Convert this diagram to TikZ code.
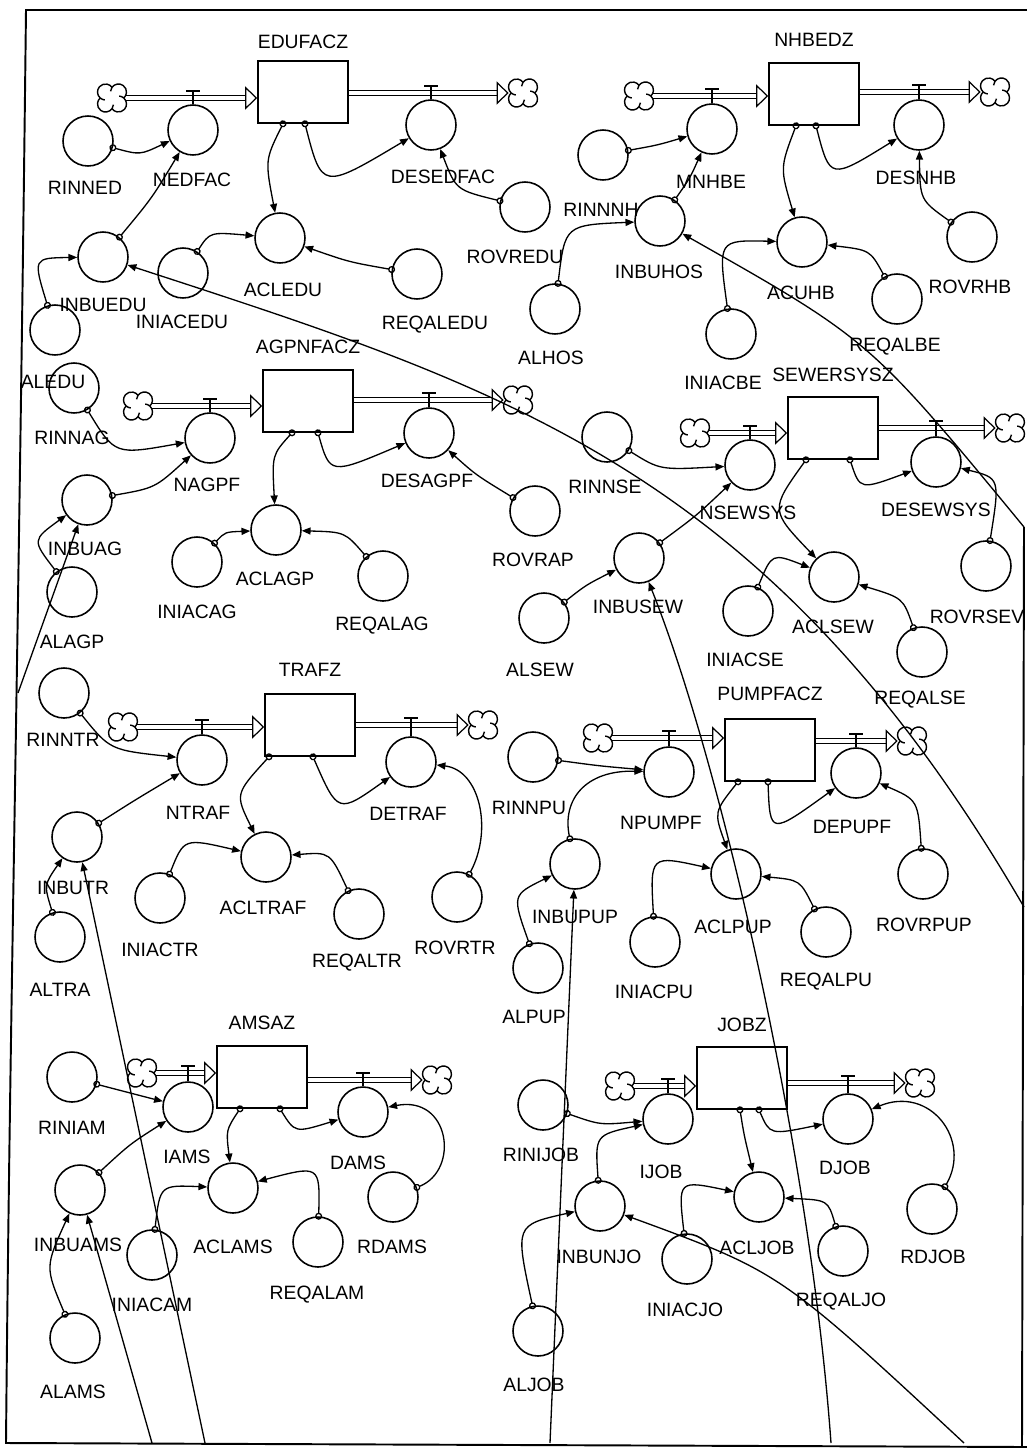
\documentclass[tikz,border=0pt]{standalone}
\usepackage{fontspec}
\setmainfont{Liberation Sans}
\usetikzlibrary{arrows.meta,calc}

\tikzset{
  aux/.style={draw, circle, minimum size=1cm, inner sep=0pt, line width=0.9pt},
  stock/.style={draw, rectangle, minimum width=1.8cm, minimum height=1.24cm, inner sep=0pt, line width=0.9pt},
  sink/.style={circle, minimum size=0.56cm, inner sep=0pt},
  puff/.style={line width=0.8pt, line join=round},
  lbl/.style={inner sep=0pt, font=\fontsize{11}{13}\selectfont},
  pipe/.style={double, double distance=2.2pt, line width=0.55pt, -{Triangle[open, length=0.24cm, width=0.46cm, line width=0.7pt]}},
  valve/.style={line width=0.8pt},
  link/.style={{Circle[open, length=4pt, width=4pt]}-{Triangle[length=5pt, width=4pt]}, line width=0.75pt, shorten <=-2pt},
  feed/.style={-{Triangle[length=5pt, width=4pt]}, line width=0.75pt},
  frame/.style={line width=1.1pt}
}

% four-lobed cloud drawn round a sink node
\newcommand{\puffs}[1]{%
  \draw[puff, shift={(#1)}] (0,-10.66) arc[start angle=-144.4, end angle=48.6, radius=8]
    arc[start angle=-48.6, end angle=144.4, radius=8]
    arc[start angle=35.6, end angle=228.6, radius=8]
    arc[start angle=131.4, end angle=324.4, radius=8] -- cycle
    (-1.47,-6.7) arc[start angle=185, end angle=215.6, radius=8]
    (7.2,-1.97) arc[start angle=275, end angle=311.4, radius=8]
    (1.47,6.7) arc[start angle=5, end angle=35.6, radius=8]
    (-7.2,1.97) arc[start angle=95, end angle=131.4, radius=8];}

\begin{document}
\begin{tikzpicture}[x=0.02cm, y=-0.02cm]
\useasboundingbox (0,0) rectangle (1027,1455);

% converters and flow rates: name / x / y / label x / label y
\foreach \n/\x/\y/\lx/\ly in {
  NEDFAC/193/130/192/180, DESEDFAC/431/125/443/177, RINNED/88/141/85/188,
  INBUEDU/103/257/103/305, ALEDU/55/330/53/382, ACLEDU/280/238/283/290,
  INIACEDU/183/273/182/322, REQALEDU/417/274/435/325, ROVREDU/525/207/515/257,
  MNHBE/712/129/711/182, DESNHB/919/125/916/178, RINNNH/603/155/601/210,
  INBUHOS/660/221/659/272, ALHOS/555/309/551/358, ACUHB/802/242/801/293,
  INIACBE/731/334/723/383, REQALBE/897/299/895/347, ROVRHB/972/237/970/287,
  NAGPF/210/438/207/485, DESAGPF/429/433/427/481, RINNAG/74/388/72/438,
  INBUAG/87/500/85/549, ALAGP/72/592/72/642, ACLAGP/276/530/275/579,
  INIACAG/197/562/197/612, REQALAG/383/576/382/626, ROVRAP/535/511/533/560,
  NSEWSYS/750/465/748/513, DESEWSYS/936/462/936/510, RINNSE/607/437/605/487,
  INBUSEW/639/558/638/607, ALSEW/544/618/540/670, ACLSEW/834/577/833/627,
  INIACSE/748/611/745/660, REQALSE/922/652/920/700, ROVRSEV/986/566/977/617,
  NTRAF/202/760/198/813, DETRAF/411/762/408/814, RINNTR/64/693/63/740,
  INBUTR/77/837/73/888, ALTRA/60/937/60/990, ACLTRAF/266/857/263/908,
  INIACTR/160/898/160/950, REQALTR/359/914/357/963, ROVRTR/457/897/455/948,
  NPUMPF/669/772/661/823, DEPUPF/856/773/852/827, RINNPU/533/757/529/808,
  INBUPUP/575/864/575/917, ALPUP/538/968/534/1017, ACLPUP/736/874/733/927,
  INIACPU/655/942/654/992, REQALPU/826/932/826/982, ROVRPUP/923/874/924/925,
  IAMS/188/1107/187/1157, DAMS/363/1112/358/1163, RINIAM/72/1077/72/1128,
  INBUAMS/80/1190/78/1245, ALAMS/75/1338/73/1392, ACLAMS/233/1188/233/1247,
  INIACAM/152/1255/152/1305, REQALAM/318/1242/317/1295, RDAMS/393/1197/392/1247,
  IJOB/668/1119/661/1172, DJOB/848/1119/845/1168, RINIJOB/543/1105/541/1155,
  INBUNJO/600/1206/599/1257, ALJOB/538/1331/534/1385, ACLJOB/759/1197/757/1248,
  INIACJO/687/1259/685/1310, REQALJO/843/1251/841/1302, RDJOB/932/1209/933/1257}
{
  \node[aux] (\n) at (\x,\y) {};
  \node[lbl] (l\n) at (\lx,\ly) {\n};
}

% stocks with source, sink, pipes and valves
\foreach \n/\x/\y/\ly/\ax/\ay/\bx/\by/\rin/\rout/\da/\db in {
  EDUFACZ/303/92/42/112/98/523/93/NEDFAC/DESEDFAC/-20/2,
  NHBEDZ/814/94/40/639/96/995/92/MNHBE/DESNHB/-18/2,
  AGPNFACZ/308/401/347/138/406/518/400/NAGPF/DESAGPF/-16/10,
  SEWERSYSZ/833/428/375/695/433/1010/428/NSEWSYS/DESEWSYS/-27/17,
  TRAFZ/310/725/670/123/727/483/725/NTRAF/DETRAF/-41/3,
  PUMPFACZ/770/750/694/598/738/912/741/NPUMPF/DEPUPF/-32/-2,
  AMSAZ/262/1077/1023/142/1073/437/1080/IAMS/DAMS/-22/18,
  JOBZ/742/1078/1025/620/1086/920/1083/IJOB/DJOB/-2/17}
{
  \node[stock] (\n) at (\x,\y) {};
  \node[lbl] (l\n) at (\x,\ly) {\n};
  \node[sink] (src\n) at (\ax,\ay) {};
  \node[sink] (snk\n) at (\bx,\by) {};
  \puffs{src\n}
  \puffs{snk\n}
  \coordinate (\n-a) at ($(\n.south)+(\da,0)$);
  \coordinate (\n-b) at ($(\n.south)+(\db,0)$);
  \draw[pipe] (src\n) -- (src\n -| \n.west);
  \draw[pipe] (\n.east |- snk\n) -- (snk\n);
  \draw[valve] (\rin.north) -- ($(\rin.north |- src\n)+(0,-7)$) ++(-7,0) -- ++(14,0);
  \draw[valve] (\rout.north) -- ($(\rout.north |- snk\n)+(0,-7)$) ++(-7,0) -- ++(14,0);
}

% information links
\foreach \a/\b/\cx/\cy in {
  RINNED/NEDFAC/140/155, INBUEDU/NEDFAC/152/198, ALEDU/INBUEDU/33/258,
  INIACEDU/ACLEDU/210/232, REQALEDU/ACLEDU/349/262, EDUFACZ-a/ACLEDU/265/160,
  EDUFACZ-b/DESEDFAC/322/190, ROVREDU/DESEDFAC/456/190,
  RINNNH/MNHBE/658/145, INBUHOS/MNHBE/690/178, ALHOS/INBUHOS/565/225,
  INIACBE/ACUHB/718/240, REQALBE/ACUHB/870/250, ROVRHB/DESNHB/920/200,
  NHBEDZ-a/ACUHB/780/168, NHBEDZ-b/DESNHB/830/180,
  RINNAG/NAGPF/115/455, INBUAG/NAGPF/155/488, ALAGP/INBUAG/32/540,
  INIACAG/ACLAGP/225/532, REQALAG/ACLAGP/345/532, AGPNFACZ-a/ACLAGP/272/455,
  AGPNFACZ-b/DESAGPF/330/475, ROVRAP/DESAGPF/476/475,
  RINNSE/NSEWSYS/660/470, INBUSEW/NSEWSYS/696/516, ALSEW/INBUSEW/586/585,
  INIACSE/ACLSEW/772/553, REQALSE/ACLSEW/903/598, ROVRSEV/DESEWSYS/1000/478,
  SEWERSYSZ-a/ACLSEW/770/510, SEWERSYSZ-b/DESEWSYS/860/490,
  RINNTR/NTRAF/110/750, INBUTR/NTRAF/135/800, ALTRA/INBUTR/44/885,
  TRAFZ-a/ACLTRAF/235/794, TRAFZ-b/DETRAF/338/814,
  INIACTR/ACLTRAF/184/838, REQALTR/ACLTRAF/330/852,
  RINNPU/NPUMPF/600/766, ALPUP/INBUPUP/512/895, INIACPU/ACLPUP/650/855,
  REQALPU/ACLPUP/800/880, ROVRPUP/DEPUPF/918/800,
  PUMPFACZ-a/ACLPUP/714/812, PUMPFACZ-b/DEPUPF/770/835,
  RINIAM/IAMS/127/1093, INBUAMS/IAMS/130/1144, ALAMS/INBUAMS/45/1267,
  INIACAM/ACLAMS/160/1185, REQALAM/ACLAMS/320/1165,
  AMSAZ-a/ACLAMS/226/1130, AMSAZ-b/DAMS/295/1133,
  RINIJOB/IJOB/600/1125, INBUNJO/IJOB/595/1135, ALJOB/INBUNJO/515/1225,
  INIACJO/ACLJOB/678/1180, REQALJO/ACLJOB/828/1200,
  JOBZ-a/ACLJOB/744/1135, JOBZ-b/DJOB/770/1135}
  \draw[link] (\a) .. controls (\cx,\cy) .. (\b);

\foreach \a/\b/\cx/\cy/\dx/\dy in {
  ROVRTR/DETRAF/493/830/480/770, INBUPUP/NPUMPF/562/800/585/770,
  RDAMS/DAMS/460/1170/450/1095, RDJOB/DJOB/972/1140/930/1085}
  \draw[link] (\a) .. controls (\cx,\cy) and (\dx,\dy) .. (\b);

% links coming in from other sheets
\coordinate (inA) at (205,1443);
\coordinate (inB) at (152,1443);
\coordinate (inC) at (831,1443);
\coordinate (inD) at (1024,907);
\coordinate (inE) at (1024,527);
\coordinate (inF) at (964,1443);
\coordinate (inG) at (18,693);
\coordinate (inP) at (550,1443);
\draw[feed] (inA) -- (INBUTR);
\draw[feed] (inB) -- (INBUAMS);
\draw[feed] (inC) .. controls (810,1150) and (720,760) .. (INBUSEW);
\draw[feed] (inD) .. controls (770,470) and (508,389) .. (INBUEDU);
\draw[feed] (inE) .. controls (870,340) .. (INBUHOS);
\draw[feed] (inF) .. controls (780,1272) .. (INBUNJO);
\draw[feed] (inG) -- (INBUAG);
\draw[feed] (inP) -- (INBUPUP);

% sheet border
\draw[frame] (1027,10) -- (26,10) .. controls (18,700) and (10,1000) .. (6,1443) -- (1027,1447);
\draw[frame] (inE) -- (1022,1447);
\end{tikzpicture}
\end{document}
